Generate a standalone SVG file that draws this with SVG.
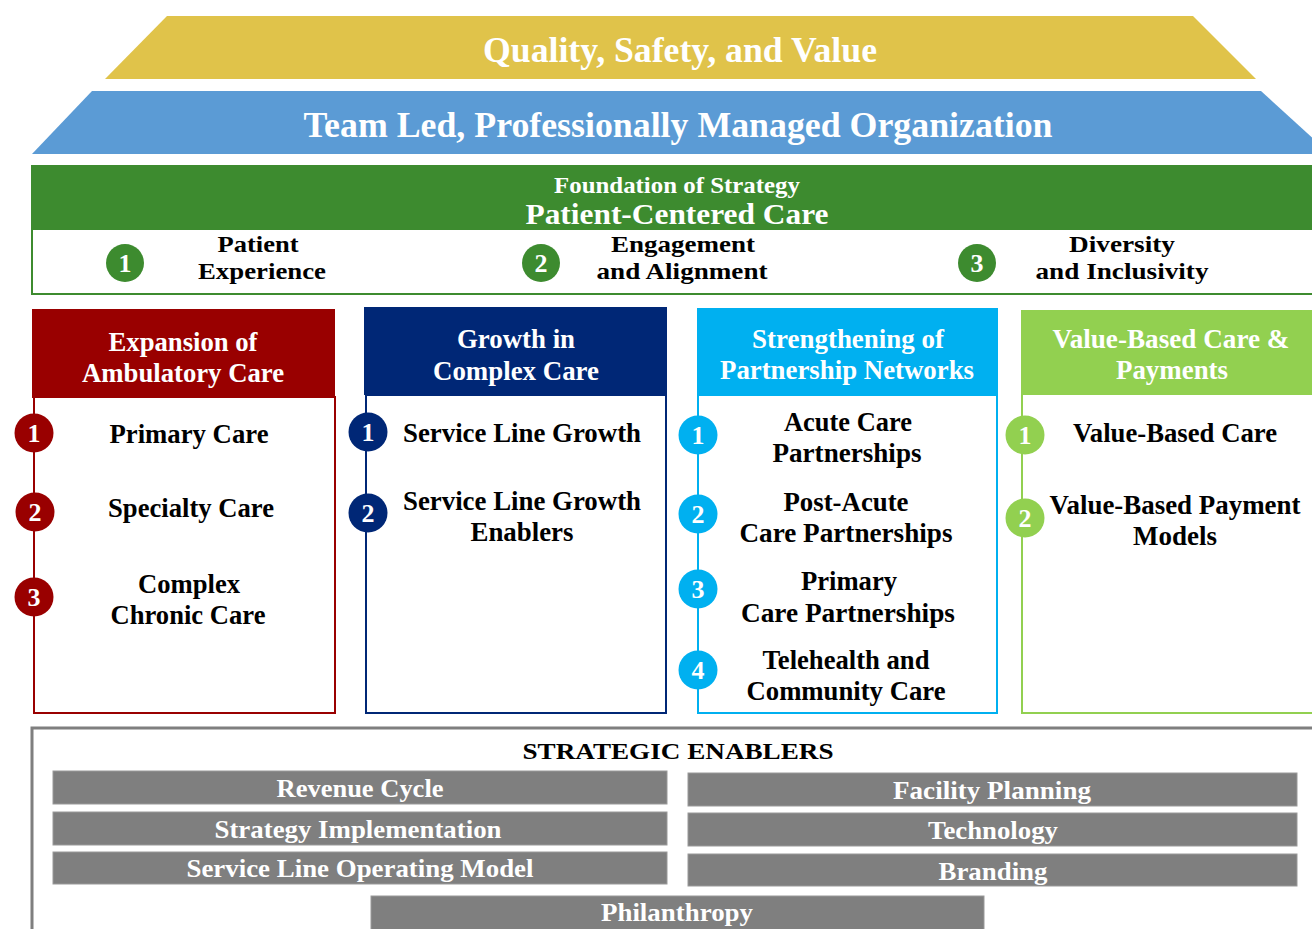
<svg xmlns="http://www.w3.org/2000/svg" width="1312" height="929" viewBox="0 0 1312 929">
  <style>
    text { font-family: "Liberation Serif", "Times New Roman", serif; font-weight: bold; text-anchor: middle; }
    .w { fill: #ffffff; }
    .k { fill: #000000; }
    .num { fill: #ffffff; font-size: 26px; }
    .body { fill: #ffffff; stroke-width: 2; }
    .bar { fill: #7f7f7f; stroke: #9a9a9a; stroke-width: 1; }
    .bartxt { fill: #ffffff; font-size: 25px; }
    .item { font-size: 27px; }
    .fitem { font-size: 24px; }
    .head { font-size: 28px; }
  </style>
  <rect width="1312" height="929" fill="#ffffff"/>

  <!-- roof tiers -->
  <g id="quality">
    <polygon points="167,16 1193,16 1256,79 105,79" fill="#e0c34a"/>
    <text class="w" x="680" y="62" font-size="36" textLength="394" lengthAdjust="spacingAndGlyphs">Quality, Safety, and Value</text>
  </g>
  <g id="team">
    <polygon points="92,91 1261,91 1330,154 32,154" fill="#5b9bd5"/>
    <text class="w" x="678" y="137" font-size="36" textLength="749" lengthAdjust="spacingAndGlyphs">Team Led, Professionally Managed Organization</text>
  </g>

  <!-- foundation -->
  <g id="foundation">
    <rect x="31" y="165" width="1290" height="64" fill="#3d8b2f"/>
    <rect x="32" y="229" width="1290" height="65" fill="#ffffff" stroke="#3d8b2f" stroke-width="2"/>
    <text class="w" x="677" y="193" font-size="23" textLength="246" lengthAdjust="spacingAndGlyphs">Foundation of Strategy</text>
    <text class="w" x="677" y="224" font-size="30" textLength="303" lengthAdjust="spacingAndGlyphs">Patient-Centered Care</text>
  </g>
  <g id="f1">
    <circle cx="125" cy="263" r="19" fill="#3d8b2f"/>
    <text class="num" x="125" y="272">1</text>
    <text class="k fitem" x="258" y="252" textLength="81" lengthAdjust="spacingAndGlyphs">Patient</text>
    <text class="k fitem" x="262" y="279" textLength="128" lengthAdjust="spacingAndGlyphs">Experience</text>
  </g>
  <g id="f2">
    <circle cx="541" cy="263" r="19" fill="#3d8b2f"/>
    <text class="num" x="541" y="272">2</text>
    <text class="k fitem" x="683" y="252" textLength="144" lengthAdjust="spacingAndGlyphs">Engagement</text>
    <text class="k fitem" x="682" y="279" textLength="171" lengthAdjust="spacingAndGlyphs">and Alignment</text>
  </g>
  <g id="f3">
    <circle cx="977" cy="263" r="19" fill="#3d8b2f"/>
    <text class="num" x="977" y="272">3</text>
    <text class="k fitem" x="1122" y="252" textLength="106" lengthAdjust="spacingAndGlyphs">Diversity</text>
    <text class="k fitem" x="1122" y="279" textLength="173" lengthAdjust="spacingAndGlyphs">and Inclusivity</text>
  </g>

  <!-- pillar 1 -->
  <g id="ambulatory">
    <rect class="body" x="34" y="397" width="301" height="316" stroke="#990000"/>
    <rect x="32" y="309" width="303" height="89" fill="#990000"/>
    <text class="w head" x="183" y="351" textLength="149" lengthAdjust="spacingAndGlyphs">Expansion of</text>
    <text class="w head" x="183" y="382" textLength="202" lengthAdjust="spacingAndGlyphs">Ambulatory Care</text>
    <circle cx="34" cy="433" r="19.5" fill="#990000"/>
    <text class="num" x="34" y="442">1</text>
    <text class="k item" x="189" y="443" textLength="159" lengthAdjust="spacingAndGlyphs">Primary Care</text>
    <circle cx="35" cy="512" r="19.5" fill="#990000"/>
    <text class="num" x="35" y="521">2</text>
    <text class="k item" x="191" y="517" textLength="166" lengthAdjust="spacingAndGlyphs">Specialty Care</text>
    <circle cx="34" cy="597" r="19.5" fill="#990000"/>
    <text class="num" x="34" y="606">3</text>
    <text class="k item" x="189" y="593" textLength="102" lengthAdjust="spacingAndGlyphs">Complex</text>
    <text class="k item" x="188" y="624" textLength="155" lengthAdjust="spacingAndGlyphs">Chronic Care</text>
  </g>

  <!-- pillar 2 -->
  <g id="complex">
    <rect class="body" x="366" y="395" width="300" height="318" stroke="#002776"/>
    <rect x="364" y="307" width="303" height="88" fill="#002776"/>
    <text class="w head" x="516" y="348" textLength="118" lengthAdjust="spacingAndGlyphs">Growth in</text>
    <text class="w head" x="516" y="380" textLength="166" lengthAdjust="spacingAndGlyphs">Complex Care</text>
    <circle cx="368" cy="432" r="19.5" fill="#002776"/>
    <text class="num" x="368" y="441">1</text>
    <text class="k item" x="522" y="442" textLength="238" lengthAdjust="spacingAndGlyphs">Service Line Growth</text>
    <circle cx="368" cy="513" r="19.5" fill="#002776"/>
    <text class="num" x="368" y="522">2</text>
    <text class="k item" x="522" y="510" textLength="238" lengthAdjust="spacingAndGlyphs">Service Line Growth</text>
    <text class="k item" x="522" y="541" textLength="103" lengthAdjust="spacingAndGlyphs">Enablers</text>
  </g>

  <!-- pillar 3 -->
  <g id="partnership">
    <rect class="body" x="698" y="395" width="299" height="318" stroke="#00b0f0"/>
    <rect x="697" y="308" width="301" height="87" fill="#00b0f0"/>
    <text class="w head" x="848" y="348" textLength="192" lengthAdjust="spacingAndGlyphs">Strengthening of</text>
    <text class="w head" x="847" y="379" textLength="254" lengthAdjust="spacingAndGlyphs">Partnership Networks</text>
    <circle cx="698" cy="435" r="19.5" fill="#00b0f0"/>
    <text class="num" x="698" y="444">1</text>
    <text class="k item" x="848" y="431" textLength="128" lengthAdjust="spacingAndGlyphs">Acute Care</text>
    <text class="k item" x="847" y="462" textLength="149" lengthAdjust="spacingAndGlyphs">Partnerships</text>
    <circle cx="698" cy="514" r="19.5" fill="#00b0f0"/>
    <text class="num" x="698" y="523">2</text>
    <text class="k item" x="846" y="511" textLength="125" lengthAdjust="spacingAndGlyphs">Post-Acute</text>
    <text class="k item" x="846" y="542" textLength="213" lengthAdjust="spacingAndGlyphs">Care Partnerships</text>
    <circle cx="698" cy="589" r="19.5" fill="#00b0f0"/>
    <text class="num" x="698" y="598">3</text>
    <text class="k item" x="849" y="590" textLength="96" lengthAdjust="spacingAndGlyphs">Primary</text>
    <text class="k item" x="848" y="622" textLength="214" lengthAdjust="spacingAndGlyphs">Care Partnerships</text>
    <circle cx="698" cy="670" r="19.5" fill="#00b0f0"/>
    <text class="num" x="698" y="679">4</text>
    <text class="k item" x="846" y="669" textLength="167" lengthAdjust="spacingAndGlyphs">Telehealth and</text>
    <text class="k item" x="846" y="700" textLength="199" lengthAdjust="spacingAndGlyphs">Community Care</text>
  </g>

  <!-- pillar 4 -->
  <g id="value">
    <rect class="body" x="1022" y="394" width="300" height="319" stroke="#92d050"/>
    <rect x="1021" y="310" width="301" height="84" fill="#92d050"/>
    <text class="w head" x="1171" y="348" textLength="237" lengthAdjust="spacingAndGlyphs">Value-Based Care &amp;</text>
    <text class="w head" x="1172" y="379" textLength="112" lengthAdjust="spacingAndGlyphs">Payments</text>
    <circle cx="1025" cy="435" r="19.5" fill="#92d050"/>
    <text class="num" x="1025" y="444">1</text>
    <text class="k item" x="1175" y="442" textLength="204" lengthAdjust="spacingAndGlyphs">Value-Based Care</text>
    <circle cx="1025" cy="518" r="19.5" fill="#92d050"/>
    <text class="num" x="1025" y="527">2</text>
    <text class="k item" x="1175" y="514" textLength="251" lengthAdjust="spacingAndGlyphs">Value-Based Payment</text>
    <text class="k item" x="1175" y="545" textLength="84" lengthAdjust="spacingAndGlyphs">Models</text>
  </g>

  <!-- strategic enablers panel -->
  <g id="enablers">
    <rect x="32" y="728" width="1300" height="220" fill="#ffffff" stroke="#7f7f7f" stroke-width="3"/>
    <text class="k" x="678" y="759" font-size="24" textLength="311" lengthAdjust="spacingAndGlyphs">STRATEGIC ENABLERS</text>
  </g>
  <g id="revenue-cycle">
    <rect class="bar" x="53" y="771" width="614" height="33"/>
    <text class="bartxt" x="360" y="797" textLength="167" lengthAdjust="spacingAndGlyphs">Revenue Cycle</text>
  </g>
  <g id="strategy-implementation">
    <rect class="bar" x="53" y="812" width="614" height="33"/>
    <text class="bartxt" x="358" y="838" textLength="287" lengthAdjust="spacingAndGlyphs">Strategy Implementation</text>
  </g>
  <g id="service-line-model">
    <rect class="bar" x="53" y="852" width="614" height="32"/>
    <text class="bartxt" x="360" y="877" textLength="347" lengthAdjust="spacingAndGlyphs">Service Line Operating Model</text>
  </g>
  <g id="facility-planning">
    <rect class="bar" x="688" y="773" width="609" height="33"/>
    <text class="bartxt" x="992" y="799" textLength="198" lengthAdjust="spacingAndGlyphs">Facility Planning</text>
  </g>
  <g id="technology">
    <rect class="bar" x="688" y="813" width="609" height="33"/>
    <text class="bartxt" x="993" y="839" textLength="130" lengthAdjust="spacingAndGlyphs">Technology</text>
  </g>
  <g id="branding">
    <rect class="bar" x="688" y="854" width="609" height="32"/>
    <text class="bartxt" x="993" y="880" textLength="109" lengthAdjust="spacingAndGlyphs">Branding</text>
  </g>
  <g id="philanthropy">
    <rect class="bar" x="371" y="896" width="613" height="40"/>
    <text class="bartxt" x="677" y="921" textLength="152" lengthAdjust="spacingAndGlyphs">Philanthropy</text>
  </g>

  <!-- no connectors in this layout -->
  <g id="connectors"/>
</svg>
